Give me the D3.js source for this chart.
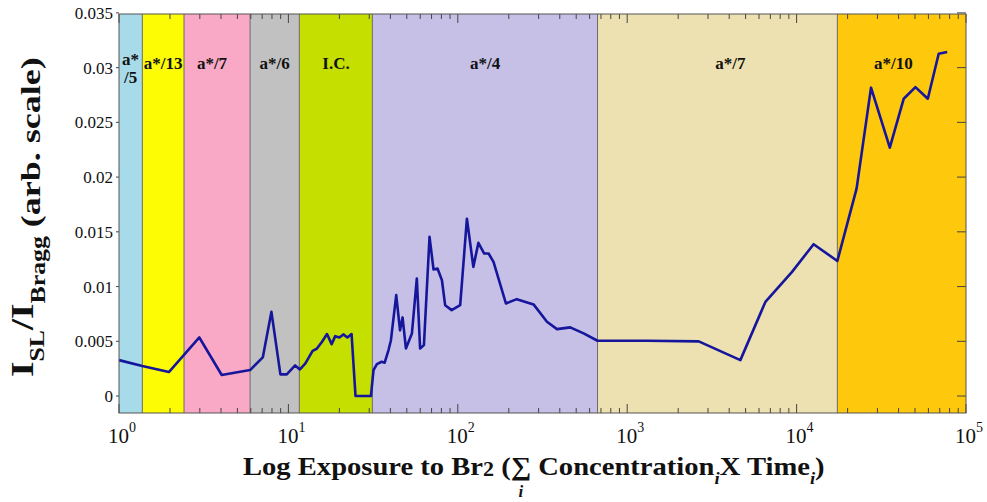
<!DOCTYPE html>
<html>
<head>
<meta charset="utf-8">
<title>Superlattice intensity vs Br2 exposure</title>
<style>
body {margin: 0; background: #fff;}
svg text {font-family: "Liberation Serif", "Times New Roman", serif; fill: #111;}
</style>
</head>
<body>
<svg width="987" height="502"></svg>
<script src="https://d3js.org/d3.v7.min.js"></script>
<script>
// exposure (x) and I_SL/I_Bragg (y)
var exposure = [1, 1.373, 1.97, 2.98, 4.04, 5.94, 7.06, 7.94, 8.97, 9.78,
    10.96, 11.7, 12.6, 13.9, 14.7, 15.8, 16.9, 18.0, 18.9, 20.0,
    21.1, 22.3, 23.6, 24.9, 30.7, 31.8, 33.3, 35.5, 37, 39,
    40.3, 43.3, 45.6, 47.2, 49.4, 53.6, 57.3, 59.9, 63.1, 68.1,
    71.9, 75.9, 80.6, 84.2, 92, 103.3, 113.2, 123.5, 132.3, 143.2,
    152, 162.5, 192.3, 223, 280, 336, 385, 461, 553, 668,
    1309, 2644, 4656, 6543, 9400, 12600, 17400, 22600, 27500, 35500,
    42900, 50300, 59500, 69000, 77400];
var ratio = [0.00328, 0.00274, 0.00219, 0.00535, 0.00192, 0.00237, 0.00353, 0.00769, 0.00198, 0.00198,
    0.0028, 0.00243, 0.00298, 0.00413, 0.00432, 0.00496, 0.00566, 0.00474, 0.00547, 0.00535,
    0.00563, 0.00535, 0.00566, 0, 0, 0.00237, 0.00292, 0.00313, 0.00305, 0.0042,
    0.0051, 0.00922, 0.0060, 0.00718, 0.00435, 0.00572, 0.01074, 0.00435, 0.00465, 0.01454,
    0.01156, 0.01165, 0.01058, 0.0083, 0.00785, 0.0083, 0.0162, 0.0118, 0.01399, 0.01302,
    0.01302, 0.01225, 0.00846, 0.00885, 0.00837, 0.00678, 0.00611, 0.00627, 0.00572, 0.00505,
    0.00505, 0.00499, 0.00328, 0.0086, 0.01134, 0.01387, 0.01234, 0.01895, 0.02817, 0.02269,
    0.02716, 0.02822, 0.02716, 0.03127, 0.03142];

// shaded regimes
var bandEdges = [1, 1.373, 2.42, 5.94, 11.6, 31.3, 668, 17400, 100000];
var bandLabels = ["a*/5", "a*/13", "a*/7", "a*/6", "I.C.", "a*/4", "a*/7", "a*/10"];
var bandLabelAt = [1.17, 1.82, 3.54, 8.3, 19.1, 145, 4064, 37300];
var bandColors = ["#a8dbea", "#fdfc04", "#f9a9c6", "#c1c1c1", "#c4df00", "#c6c0e6", "#ede1b1", "#fec80c"];

var yTicks = [0, 0.005, 0.01, 0.015, 0.02, 0.025, 0.03, 0.035];
var yTickLabels = ["0", "0.005", "0.01", "0.015", "0.02", "0.025", "0.03", "0.035"];
var xTicks = [1, 10, 100, 1000, 10000, 100000];
var xTickExp = ["0", "1", "2", "3", "4", "5"];

var svg = d3.select("svg"),
    pL = 119, pR = 966, pT = 14, pB = 413;

var x = d3.scaleLog().domain([1, 100000]).range([pL, pR]);
var y = d3.scaleLinear().domain([-0.00155, 0.0349]).range([pB, pT]);

// bands
var bands = bandLabels.map(function(l, i) {
    return {label: l, x0: bandEdges[i], x1: bandEdges[i + 1], color: bandColors[i], at: bandLabelAt[i]};
});
svg.append("g").selectAll("rect").data(bands).enter().append("rect")
    .attr("x", function(d) { return x(d.x0); })
    .attr("y", pT)
    .attr("width", function(d) { return x(d.x1) - x(d.x0); })
    .attr("height", pB - pT)
    .attr("fill", function(d) { return d.color; });
svg.append("g").selectAll("line").data(bandEdges.slice(1, -1)).enter().append("line")
    .attr("x1", function(d) { return x(d); }).attr("x2", function(d) { return x(d); })
    .attr("y1", pT).attr("y2", pB)
    .attr("stroke", "#6a6a6a").attr("stroke-width", 1);

// band labels
var bl = svg.append("g").attr("font-weight", "bold").attr("font-size", 17).attr("text-anchor", "middle");
bands.forEach(function(d) {
    if (d.label == "a*/5") {
        bl.append("text").attr("x", x(d.at)).attr("y", 65).text("a*");
        bl.append("text").attr("x", x(d.at)).attr("y", 83).text("/5");
    } else {
        bl.append("text").attr("x", x(d.at)).attr("y", 69).text(d.label);
    }
});

// ticks (inside box, matlab style)
var minor = [];
for (var k = 0; k < 5; k++) for (var m = 2; m < 10; m++) minor.push(m * Math.pow(10, k));
var tk = svg.append("g").attr("stroke", "#444").attr("stroke-width", 1);
xTicks.forEach(function(v) {
    tk.append("line").attr("x1", x(v)).attr("x2", x(v)).attr("y1", pB).attr("y2", pB - 9);
    tk.append("line").attr("x1", x(v)).attr("x2", x(v)).attr("y1", pT).attr("y2", pT + 9);
});
minor.forEach(function(v) {
    tk.append("line").attr("x1", x(v)).attr("x2", x(v)).attr("y1", pB).attr("y2", pB - 5);
    tk.append("line").attr("x1", x(v)).attr("x2", x(v)).attr("y1", pT).attr("y2", pT + 5);
});
yTicks.forEach(function(v) {
    tk.append("line").attr("x1", pR).attr("x2", pR - 9).attr("y1", y(v)).attr("y2", y(v));
    tk.append("line").attr("x1", pL).attr("x2", pL - 3).attr("y1", y(v)).attr("y2", y(v));
});

// line
var pts = exposure.map(function(e, i) { return [e, ratio[i]]; });
svg.append("path").datum(pts)
    .attr("fill", "none")
    .attr("stroke", "#16169c")
    .attr("stroke-width", 2.6)
    .attr("stroke-linejoin", "round")
    .attr("d", d3.line().x(function(d) { return x(d[0]); }).y(function(d) { return y(d[1]); }));

// box
svg.append("rect").attr("x", pL).attr("y", pT).attr("width", pR - pL).attr("height", pB - pT)
    .attr("fill", "none").attr("stroke", "#555").attr("stroke-width", 1);

// y tick labels
svg.append("g").attr("font-size", 17).attr("text-anchor", "end")
    .selectAll("text").data(yTicks).enter().append("text")
    .attr("x", 113).attr("y", function(d) { return y(d); }).attr("dy", "0.35em")
    .text(function(d, i) { return yTickLabels[i]; });

// x tick labels 10^n
var xl = svg.append("g").attr("font-size", 21).attr("text-anchor", "middle");
xTicks.forEach(function(v, i) {
    var t = xl.append("text").attr("x", x(v) + 3).attr("y", 443);
    t.append("tspan").text("10");
    t.append("tspan").attr("font-size", 14).attr("dy", -11).text(xTickExp[i]);
});

// x axis title
var xt = svg.append("text").attr("font-weight", "bold").attr("font-size", 26).attr("x", 0).attr("y", 475);
xt.append("tspan").text("Log Exposure to Br");
xt.append("tspan").attr("font-size", 20).attr("dy", 1).text("2");
xt.append("tspan").attr("dy", -1).text(" (\u2211 Concentration");
xt.append("tspan").attr("font-size", 17).attr("font-style", "italic").attr("dy", 9).text("i");
xt.append("tspan").attr("dy", -9).text("X Time");
xt.append("tspan").attr("font-size", 17).attr("font-style", "italic").attr("dy", 9).text("i");
xt.append("tspan").attr("dy", -9).text(")");
var w = xt.node().getComputedTextLength();
var sx = 582 / w, x0 = 534 - 582 / 2;
xt.attr("transform", "translate(" + x0 + ",0) scale(" + sx + ",1)");
var sig = xt.node().getExtentOfChar(21);
svg.append("text").attr("font-weight", "bold").attr("font-style", "italic").attr("font-size", 17)
    .attr("text-anchor", "middle")
    .attr("x", x0 + (sig.x + sig.width / 2) * sx).attr("y", 497).text("i");

// y axis title
var yt = svg.append("text").attr("font-weight", "bold").attr("x", 0).attr("y", 0);
yt.append("tspan").attr("font-size", 31).text("I");
yt.append("tspan").attr("font-size", 20).attr("dy", 11).text("SL");
yt.append("tspan").attr("font-size", 31).attr("dy", -11).text("/I");
yt.append("tspan").attr("font-size", 20).attr("dy", 12).text("Bragg");
yt.append("tspan").attr("font-size", 28).attr("dy", -5).text(" (arb. scale)");
var wy = yt.node().getComputedTextLength();
yt.attr("transform", "translate(33,377) rotate(-90) scale(" + (320 / wy) + ",1)");
</script>
</body>
</html>
